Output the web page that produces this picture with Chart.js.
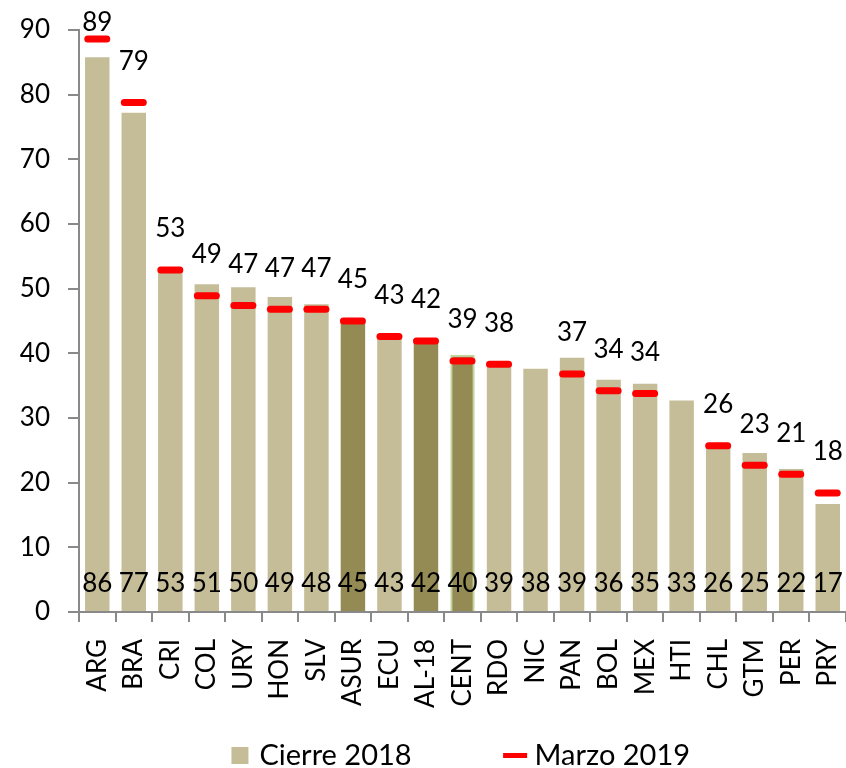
<!DOCTYPE html>
<html>
<head>
<meta charset="utf-8">
<script src="https://cdn.jsdelivr.net/npm/chart.js@4.4.1/dist/chart.umd.min.js"></script>
<style>
  html, body { margin: 0; padding: 0; background: #ffffff; }
  #wrap { width: 846px; height: 768px; position: relative; }
</style>
</head>
<body>
<div id="wrap"><canvas id="c" width="846" height="768"></canvas></div>
<script>
// ---- Data ----
const categories = ['ARG','BRA','CRI','COL','URY','HON','SLV','ASUR','ECU','AL-18','CENT','RDO','NIC','PAN','BOL','MEX','HTI','CHL','GTM','PER','PRY'];
const cierre2018 = [85.8, 77.2, 52.7, 50.7, 50.2, 48.7, 47.6, 44.8, 42.9, 41.7, 39.8, 38.6, 37.6, 39.3, 35.9, 35.3, 32.7, 25.6, 24.6, 22.1, 16.7];
const marzo2019  = [88.6, 78.8, 52.9, 48.9, 47.4, 46.8, 46.8, 45.0, 42.6, 41.9, 38.8, 38.3, null, 36.8, 34.2, 33.8, null, 25.7, 22.7, 21.3, 18.4];
const aggregates = ['ASUR','AL-18','CENT'];
const highlightBorder = ['CENT'];
const yTicks = [0, 10, 20, 30, 40, 50, 60, 70, 80, 90];
const seriesNames = ['Cierre 2018', 'Marzo 2019'];

// ---- Styles ----
const TAN = '#C4BD97';
const OLIVE = '#948A54';
const RED = '#FF0000';
const AXIS = '#898989';
const FONT = 'Lato';

const barColors = categories.map(c => aggregates.includes(c) ? OLIVE : TAN);
const barBorders = categories.map(c => highlightBorder.includes(c) ? '#C3D69B' : 'rgba(0,0,0,0)');
const barBorderW = categories.map(c => highlightBorder.includes(c) ? 2 : 0);

const labelPlugin = {
  id: 'valueLabels',
  beforeDatasetDraw(chart, args) {
    if (args.index === 1) chart.ctx.lineCap = 'round';
  },
  afterDatasetDraw(chart, args) {
    if (args.index === 1) chart.ctx.lineCap = 'butt';
  },
  afterDatasetsDraw(chart) {
    const ctx = chart.ctx;
    const bars = chart.getDatasetMeta(0).data;
    const pts = chart.getDatasetMeta(1).data;
    const bottom = chart.scales.y.getPixelForValue(0);
    ctx.save();
    ctx.fillStyle = '#000';
    ctx.font = '26px ' + FONT;
    ctx.textAlign = 'center';
    ctx.textBaseline = 'middle';
    bars.forEach((b, i) => {
      ctx.fillText(String(Math.round(cierre2018[i])), b.x, bottom - 28);
    });
    pts.forEach((p, i) => {
      const v = marzo2019[i];
      if (v === null || v === undefined) return;
      const y = Math.max(p.y - 41, 23);
      ctx.fillText(String(Math.round(v)), p.x, y);
    });
    ctx.restore();
  }
};

new Chart(document.getElementById('c'), {
  type: 'bar',
  data: {
    labels: categories,
    datasets: [
      {
        label: seriesNames[0],
        data: cierre2018,
        backgroundColor: barColors,
        borderColor: barBorders,
        borderWidth: barBorderW,
        barPercentage: 0.67,
        categoryPercentage: 1.0,
        order: 2
      },
      {
        type: 'line',
        label: seriesNames[1],
        data: marzo2019,
        showLine: false,
        pointStyle: 'line',
        pointRadius: 9.5,
        pointHoverRadius: 9.5,
        pointBorderWidth: 7,
        pointHoverBorderWidth: 7,
        pointBorderColor: RED,
        pointBackgroundColor: RED,
        borderColor: RED,
        backgroundColor: RED,
        order: 1
      }
    ]
  },
  options: {
    responsive: false,
    animation: false,
    devicePixelRatio: 1,
    layout: { autoPadding: false, padding: { top: 30, right: -4, left: 0, bottom: -12 } },
    plugins: {
      tooltip: { enabled: false },
      legend: {
        position: 'bottom',
        fullSize: false,
        labels: {
          usePointStyle: true,
          boxHeight: 17,
          boxWidth: 10,
          padding: 2,
          color: '#000',
          font: { family: FONT, size: 29 },
          generateLabels(chart) {
            return [
              { text: seriesNames[0] + '\u00a0'.repeat(13), fillStyle: TAN, strokeStyle: TAN, lineWidth: 0, pointStyle: 'rect', hidden: false, datasetIndex: 0, fontColor: '#000' },
              { text: seriesNames[1], fillStyle: RED, strokeStyle: RED, lineWidth: 5, pointStyle: 'line', hidden: false, datasetIndex: 1, fontColor: '#000' }
            ];
          }
        }
      }
    },
    scales: {
      x: {
        offset: true,
        grid: { display: true, offset: true, drawOnChartArea: false, drawTicks: true, tickLength: 10, color: AXIS, lineWidth: 2 },
        border: { display: true, color: AXIS, width: 2 },
        ticks: { minRotation: 90, maxRotation: 90, autoSkip: false, padding: 17, color: '#000', font: { family: FONT, size: 26 } },
        afterFit(scale) { scale.height = 127; scale.paddingLeft = 0; scale.paddingRight = -4; }
      },
      y: {
        min: 0,
        max: 90,
        afterBuildTicks(scale) { scale.ticks = yTicks.map(v => ({ value: v })); },
        grid: { display: true, drawOnChartArea: false, drawTicks: true, tickLength: 11, color: AXIS, lineWidth: 2 },
        border: { display: true, color: AXIS, width: 2 },
        ticks: { padding: 18, color: '#000', font: { family: FONT, size: 26 } },
        afterFit(scale) { scale.width = 79; scale.paddingTop = 0; scale.paddingBottom = 0; }
      }
    }
  },
  plugins: [labelPlugin]
});
</script>
</body>
</html>
